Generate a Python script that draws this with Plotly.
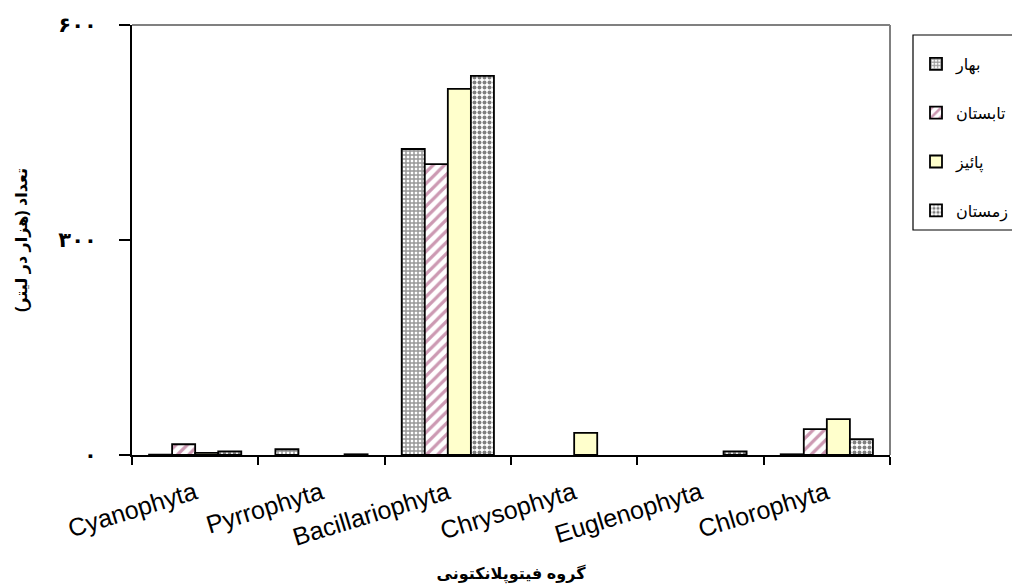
import plotly.graph_objects as go

categories = ["Cyanophyta", "Pyrrophyta", "Bacillariophyta", "Chrysophyta", "Euglenophyta", "Chlorophyta"]
series_names = ["بهار", "تابستان", "پائیز", "زمستان"]
spring = [0.5, 8, 427, 0, 0, 1]
summer = [15, 0, 406, 0, 0, 36]
autumn = [3, 0, 511, 31, 0, 50]
winter = [5, 1, 529, 0, 5, 22]
values = [spring, summer, autumn, winter]

ytick_vals = [0, 300, 600]
ytick_text = ["۰", "۳۰۰", "۶۰۰"]
y_title = "تعداد (هزار در لیتر)"
x_title = "گروه فیتوپلانکتونی"

styles = [
    dict(color="white", pattern=dict(shape="+", fgcolor="#303030", bgcolor="white", size=4, solidity=0.6)),
    dict(color="white", pattern=dict(shape="/", fgcolor="#993366", bgcolor="white", size=8, solidity=0.4)),
    dict(color="#FFFFCC"),
    dict(color="white", pattern=dict(shape=".", fgcolor="black", bgcolor="white", size=5, solidity=0.5)),
]

fig = go.Figure()
for i, (name, vals) in enumerate(zip(series_names, values)):
    st = styles[i]
    marker = dict(color=st["color"], line=dict(color="black", width=1.8))
    if "pattern" in st:
        marker["pattern"] = st["pattern"]
    fig.add_trace(go.Bar(
        x=categories, y=[v if v > 0 else None for v in vals], name=name, marker=marker,
        legendgroup=f"g{i}",
    ))

PL, PR, PT, PB = 132, 890, 25, 455
pw, ph = PR - PL, PB - PT

def px(x):
    return (x - PL) / pw

def py(y):
    return (PB - y) / ph

fig.update_layout(
    width=1012, height=587,
    margin=dict(l=PL, r=1012 - PR, t=PT, b=587 - PB, autoexpand=False),
    paper_bgcolor="white", plot_bgcolor="white",
    barmode="group", bargap=0.27, bargroupgap=0,
    font=dict(family="Liberation Sans, Arial, DejaVu Sans, sans-serif", color="black"),
    showlegend=True,
    legend=dict(
        x=px(916), xanchor="left", y=py(47), yanchor="top",
        borderwidth=0, bgcolor="rgba(0,0,0,0)",
        font=dict(size=16), traceorder="grouped", tracegroupgap=25,
    ),
    xaxis=dict(
        type="category", showline=True, linecolor="black", linewidth=2,
        ticks="outside", ticklen=8, tickcolor="black", tickwidth=1.5,
        tickson="boundaries", tickangle=-17, tickfont=dict(size=25),
        ticklabelstandoff=12,
        showgrid=False,
        title=dict(text="<b>" + x_title + "</b>", font=dict(size=16), standoff=18),
    ),
    yaxis=dict(
        range=[0, 600], tickvals=ytick_vals, ticktext=["<b>" + t + "</b>" for t in ytick_text],
        showline=True, linecolor="black", linewidth=2,
        ticks="outside", ticklen=11, tickcolor="black", tickwidth=1.5,
        tickfont=dict(size=21), ticklabelstandoff=18,
        showgrid=False, zeroline=False,
        title=dict(text="<b>" + y_title + "</b>", font=dict(size=16), standoff=27),
    ),
    shapes=[
        dict(type="line", xref="paper", yref="paper", x0=0, x1=1, y0=1, y1=1,
             line=dict(color="#808080", width=2)),
        dict(type="line", xref="paper", yref="paper", x0=1, x1=1, y0=0, y1=1,
             line=dict(color="#808080", width=2)),
        dict(type="rect", xref="paper", yref="paper", x0=px(913), x1=px(1030),
             y0=py(230), y1=py(35), line=dict(color="black", width=1.2)),
    ],
)

fig.write_html("out.html")
